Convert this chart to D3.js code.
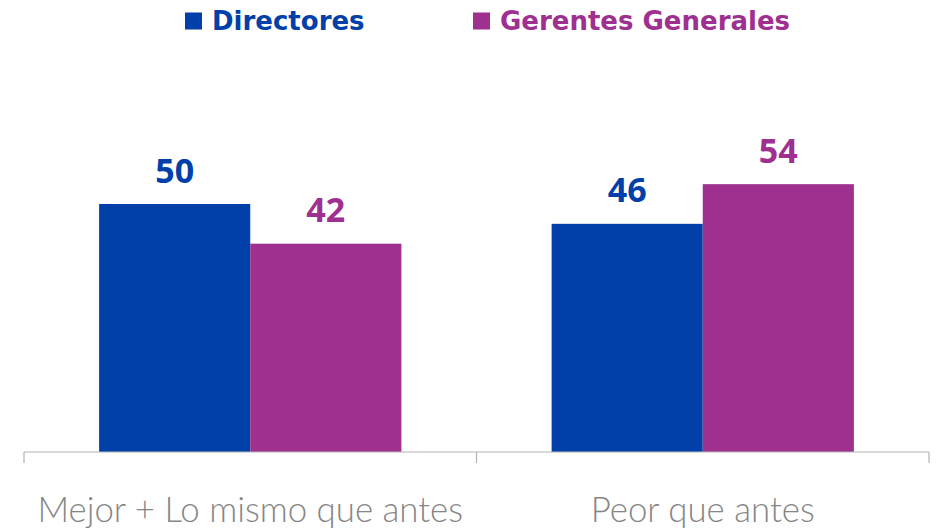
<!DOCTYPE html>
<html><head><meta charset="utf-8">
<script src="https://cdn.jsdelivr.net/npm/d3@7"></script>
<style>body{margin:0;background:#fff}svg{display:block}</style>
</head><body>
<svg id="c" width="939" height="529"></svg>
<script>
const categories = ["Mejor + Lo mismo que antes", "Peor que antes"];
const seriesNames = ["Directores", "Gerentes Generales"];
const directores = [50, 46];
const gerentes = [42, 54];
const seriesColors = ["#0040A8", "#A0308F"];

const values = [directores, gerentes];
const svg = d3.select("#c");
const x0 = d3.scaleBand().domain(categories).range([24, 929]).padding(0);
const bw = x0.bandwidth();
const groupFrac = 0.668;
const x1 = d3.scaleBand().domain(seriesNames)
  .range([bw*(1-groupFrac)/2, bw*(1+groupFrac)/2]).padding(0);
const y = d3.scaleLinear().domain([0, 60]).range([452, 154.4]);

const data = [];
categories.forEach((c, i) => seriesNames.forEach((s, j) => data.push({c, s, j, v: values[j][i]})));

svg.selectAll("rect.bar").data(data).join("rect").attr("class","bar")
  .attr("x", d => x0(d.c) + x1(d.s))
  .attr("width", x1.bandwidth())
  .attr("y", d => y(d.v))
  .attr("height", d => y(0) - y(d.v))
  .attr("fill", d => seriesColors[d.j]);

svg.selectAll("text.val").data(data).join("text").attr("class","val")
  .attr("x", d => x0(d.c) + x1(d.s) + x1.bandwidth()/2)
  .attr("y", d => y(d.v) - 21.5)
  .attr("text-anchor","middle")
  .attr("font-family","'Open Sans', sans-serif").attr("font-weight","bold")
  .attr("font-size", 34)
  .attr("fill", d => seriesColors[d.j])
  .text(d => d.v);

// axis
const ax = svg.append("g").attr("transform","translate(0,452)")
  .call(d3.axisBottom(x0).tickSize(0).tickPadding(0).tickFormat(""));
ax.select(".domain").attr("stroke","#b3b3b3").attr("stroke-width",1.2).attr("d","M24,0H929");
const tickPos = [24, ...categories.map(c => x0(c) + bw)];
ax.selectAll("line.sep").data(tickPos).join("line").attr("class","sep")
  .attr("x1", d => d).attr("x2", d => d).attr("y1", 0).attr("y2", 11)
  .attr("stroke","#b3b3b3").attr("stroke-width",1.2);
ax.selectAll("text.cat").data(categories).join("text").attr("class","cat")
  .attr("x", d => x0(d) + bw/2).attr("y", 70)
  .attr("text-anchor","middle")
  .attr("font-family","Lato, sans-serif").attr("font-weight", 300).attr("font-size", 34.8)
  .attr("fill","#868686")
  .text(d => d);

// legend
const legX = [185, 473];
const lg = svg.selectAll("g.leg").data(seriesNames).join("g").attr("class","leg")
  .attr("transform", (d,i) => `translate(${legX[i]},0)`);
lg.append("rect").attr("x",0).attr("y",12.5).attr("width",17).attr("height",17)
  .attr("fill",(d,i)=>seriesColors[i]);
lg.append("text").attr("x",27).attr("y",30)
  .attr("font-family","'DejaVu Sans', sans-serif").attr("font-weight","bold")
  .attr("font-size",26).attr("fill",(d,i)=>seriesColors[i]).text(d=>d);
</script>
</body></html>
